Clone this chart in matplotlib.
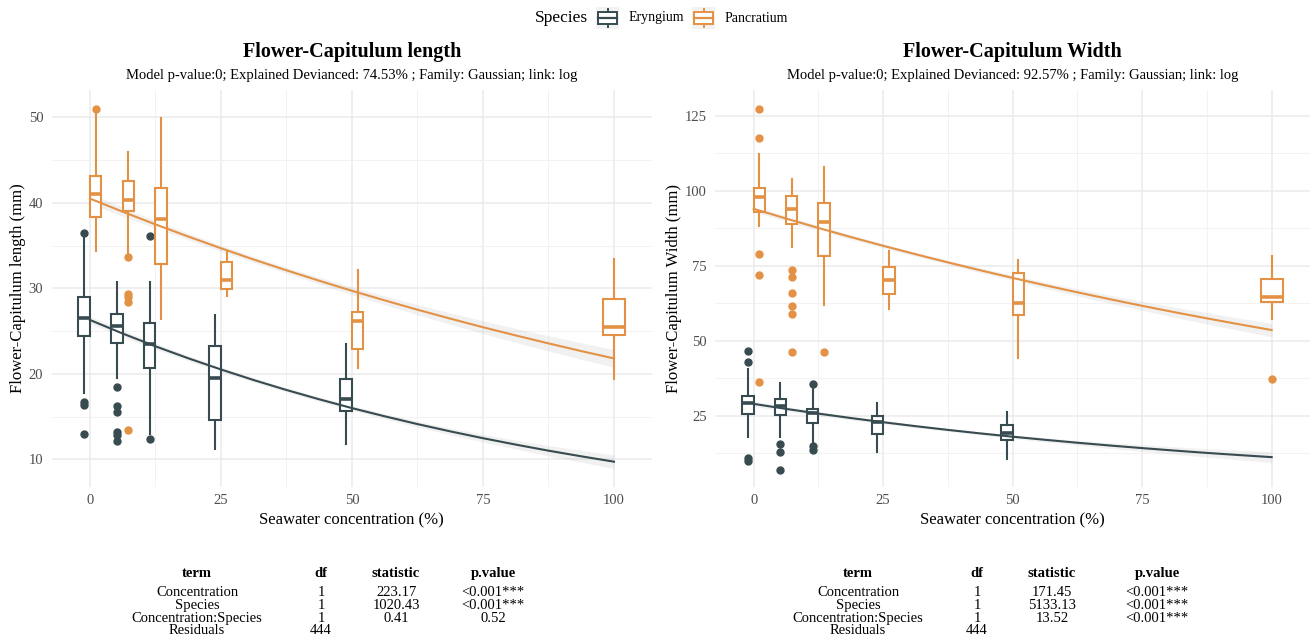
import matplotlib
matplotlib.use("Agg")
import matplotlib.pyplot as plt
from matplotlib.patches import Rectangle
from matplotlib.lines import Line2D

plt.rcParams['font.family'] = ['Liberation Serif', 'DejaVu Serif']

# colours
col_ery = '#374B50'
col_pan = '#E39245'
species = ['Eryngium', 'Pancratium']

# seawater concentrations (%)
conc_ery = [0, 6.25, 12.5, 25, 50]
conc_pan = [0, 6.25, 12.5, 25, 50, 100]

# ---- Flower-Capitulum length : box stats
len_ery_q1 = [24.4, 23.6, 20.65, 14.6, 15.7]
len_ery_med = [26.5, 25.6, 23.5, 19.5, 17.0]
len_ery_q3 = [29.0, 27.0, 25.9, 23.2, 19.4]
len_ery_lo = [17.7, 19.5, 13.0, 11.2, 11.8]
len_ery_hi = [35.9, 30.7, 30.7, 26.9, 23.5]
len_ery_out = [[36.5, 16.7, 16.3, 13.0], [18.4, 16.2, 15.5, 13.2, 12.9, 12.1],
               [36.15, 12.4], [], []]

len_pan_q1 = [38.3, 39.0, 32.85, 29.9, 22.9, 24.5]
len_pan_med = [41.05, 40.35, 38.1, 31.0, 26.2, 25.5]
len_pan_q3 = [43.1, 42.6, 41.7, 33.1, 27.2, 28.8]
len_pan_lo = [34.4, 34.0, 26.4, 29.05, 20.65, 19.4]
len_pan_hi = [50.5, 45.9, 49.9, 34.35, 32.2, 33.45]
len_pan_out = [[51.0], [33.7, 29.35, 29.0, 28.4, 13.4], [], [], [], []]

# ---- Flower-Capitulum width
wid_ery_q1 = [25.55, 25.4, 22.6, 19.0, 17.0]
wid_ery_med = [29.4, 28.4, 26.0, 22.8, 19.2]
wid_ery_q3 = [31.7, 30.6, 27.3, 24.8, 22.0]
wid_ery_lo = [18.1, 17.8, 16.0, 12.8, 10.6]
wid_ery_hi = [40.5, 35.9, 34.0, 29.4, 26.2]
wid_ery_out = [[46.6, 42.9, 10.9, 9.8], [15.7, 12.9, 7.0], [35.5, 15.0, 13.6], [], []]

wid_pan_q1 = [93.0, 88.9, 78.2, 65.6, 58.5, 63.0]
wid_pan_med = [97.8, 93.8, 89.7, 70.3, 62.7, 64.7]
wid_pan_q3 = [101.0, 98.3, 96.0, 74.7, 72.5, 70.6]
wid_pan_lo = [88.3, 81.2, 62.0, 60.6, 44.4, 57.4]
wid_pan_hi = [112.2, 104.1, 107.8, 80.0, 76.9, 78.3]
wid_pan_out = [[127.2, 117.7, 78.9, 71.8, 36.2], [73.6, 71.2, 66.1, 61.7, 59.0, 46.2],
               [46.4], [], [], [37.2]]

# ---- fitted GLM curves (at these x) and CI half-widths
fit_x = [0, 6.25, 12.5, 18.75, 25, 31.25, 37.5, 43.75, 50,
         56.25, 62.5, 68.75, 75, 81.25, 87.5, 93.75, 100]
len_fit_ery = [26.30, 24.71, 23.22, 21.82, 20.51, 19.27, 18.11, 17.02, 15.99,
               15.03, 14.12, 13.27, 12.47, 11.72, 11.01, 10.35, 9.72]
len_ci_ery = [0.45, 0.4, 0.35, 0.31, 0.28, 0.26, 0.25, 0.26, 0.28,
              0.31, 0.35, 0.4, 0.45, 0.52, 0.6, 0.7, 0.8]
len_fit_pan = [40.50, 38.96, 37.48, 36.06, 34.69, 33.37, 32.11, 30.89, 29.71,
               28.59, 27.50, 26.46, 25.45, 24.49, 23.56, 22.66, 21.80]
len_ci_pan = [0.6, 0.52, 0.45, 0.4, 0.35, 0.35, 0.35, 0.4, 0.45,
              0.52, 0.6, 0.67, 0.75, 0.82, 0.9, 0.97, 1.05]
wid_fit_ery = [29.00, 27.33, 25.76, 24.28, 22.89, 21.57, 20.33, 19.16, 18.06,
               17.03, 16.05, 15.13, 14.26, 13.44, 12.66, 11.94, 11.25]
wid_ci_ery = [0.9, 0.8, 0.7, 0.62, 0.55, 0.52, 0.5, 0.55, 0.6,
              0.7, 0.8, 0.95, 1.1, 1.25, 1.4, 1.6, 1.8]
wid_fit_pan = [94.00, 90.76, 87.63, 84.60, 81.68, 78.87, 76.15, 73.52, 70.98,
               68.53, 66.17, 63.89, 61.68, 59.55, 57.50, 55.52, 53.60]
wid_ci_pan = [1.0, 0.9, 0.8, 0.75, 0.7, 0.7, 0.7, 0.8, 0.9,
              1.05, 1.2, 1.35, 1.5, 1.7, 1.9, 2.05, 2.2]

# ---- anova tables
tab_head = ['term', 'df', 'statistic', 'p.value']
tab_terms = ['Concentration', 'Species', 'Concentration:Species', 'Residuals']
tab_df = ['1', '1', '1', '444']
len_stat = ['223.17', '1020.43', '0.41', '']
len_p = ['<0.001***', '<0.001***', '0.52', '']
wid_stat = ['171.45', '5133.13', '13.52', '']
wid_p = ['<0.001***', '<0.001***', '<0.001***', '']

W, H = 1311, 642
fig = plt.figure(figsize=(W / 100, H / 100), dpi=100)


def box_stats(q1, med, q3, lo, hi, out):
    return [dict(q1=a, med=b, q3=c, whislo=d, whishi=e, fliers=f)
            for a, b, c, d, e, f in zip(q1, med, q3, lo, hi, out)]


def draw_boxes(ax, conc, stats, color, side, n_other):
    pos, wds = [], []
    for x in conc:
        if x in n_other:
            pos.append(x + side * 1.1)
            wds.append(2.2)
        else:
            pos.append(x)
            wds.append(4.3)
    ax.bxp(stats, positions=pos, widths=wds, patch_artist=True, showcaps=False,
           boxprops=dict(facecolor='white', edgecolor=color, linewidth=1.5),
           medianprops=dict(color=color, linewidth=2.6, solid_capstyle='butt'),
           whiskerprops=dict(color=color, linewidth=1.5),
           flierprops=dict(marker='o', markerfacecolor=color, markeredgecolor=color,
                           markersize=5),
           manage_ticks=False, zorder=3)


def panel(rect, title, subtitle, ylabel, ery, pan, fits, xlim, ylim, yticks, yminor):
    ax = fig.add_axes(rect)
    ax.set_xlim(*xlim)
    ax.set_ylim(*ylim)
    ax.set_xticks([0, 25, 50, 75, 100])
    ax.set_xticks([12.5, 37.5, 62.5, 87.5], minor=True)
    ax.set_yticks(yticks)
    ax.set_yticks(yminor, minor=True)
    ax.grid(which='major', color='#EBEBEB', linewidth=1.1, zorder=0)
    ax.grid(which='minor', color='#F2F2F2', linewidth=0.7, zorder=0)
    ax.set_axisbelow(True)
    for s in ax.spines.values():
        s.set_visible(False)
    ax.tick_params(which='both', length=0, labelsize=10.5, labelcolor='#4D4D4D', pad=5)
    ax.tick_params(axis='y', pad=6)

    for (fy, ci, c) in fits:
        lo = [a - b for a, b in zip(fy, ci)]
        hi = [a + b for a, b in zip(fy, ci)]
        ax.fill_between(fit_x, lo, hi, color='#999999', alpha=0.13, linewidth=0, zorder=2)

    draw_boxes(ax, conc_ery, ery, col_ery, -1, conc_ery)
    draw_boxes(ax, conc_pan, pan, col_pan, 1, conc_ery)

    for (fy, ci, c) in fits:
        ax.plot(fit_x, fy, color=c, linewidth=1.5, zorder=4)

    ax.set_xlabel('Seawater concentration (%)', fontsize=12, labelpad=4)
    ax.set_ylabel(ylabel, fontsize=12, labelpad=2)
    ax.text(0.5, 1 + 38 / 397, title, transform=ax.transAxes, ha='center', va='center',
            fontsize=14.5, fontweight='bold')
    ax.text(0.5, 1 + 14.5 / 397, subtitle, transform=ax.transAxes, ha='center',
            va='center', fontsize=10.5)
    return ax


bottom = 1 - 487 / H
height = 397 / H

panel([51.7 / W, bottom, 600 / W, height], 'Flower-Capitulum length',
      'Model p-value:0; Explained Devianced: 74.53% ; Family: Gaussian; link: log',
      'Flower-Capitulum length (mm)',
      box_stats(len_ery_q1, len_ery_med, len_ery_q3, len_ery_lo, len_ery_hi, len_ery_out),
      box_stats(len_pan_q1, len_pan_med, len_pan_q3, len_pan_lo, len_pan_hi, len_pan_out),
      [(len_fit_ery, len_ci_ery, col_ery), (len_fit_pan, len_ci_pan, col_pan)],
      (-7.3, 107.2), (6.76, 53.2), [10, 20, 30, 40, 50], [15, 25, 35, 45])

panel([715 / W, bottom, 595 / W, height], 'Flower-Capitulum Width',
      'Model p-value:0; Explained Devianced: 92.57% ; Family: Gaussian; link: log',
      'Flower-Capitulum Width (mm)',
      box_stats(wid_ery_q1, wid_ery_med, wid_ery_q3, wid_ery_lo, wid_ery_hi, wid_ery_out),
      box_stats(wid_pan_q1, wid_pan_med, wid_pan_q3, wid_pan_lo, wid_pan_hi, wid_pan_out),
      [(wid_fit_ery, wid_ci_ery, col_ery), (wid_fit_pan, wid_ci_pan, col_pan)],
      (-7.47, 107.4), (1.3, 133.6), [25, 50, 75, 100, 125], [12.5, 37.5, 62.5, 87.5, 112.5])

# ---- legend at the top
fx = lambda px: px / W
fy = lambda py: 1 - py / H
fig.text(fx(535), fy(18), 'Species', fontsize=12.5, ha='left', va='center')
key_left = [596, 692]
for name, c, kx in zip(species, [col_ery, col_pan], key_left):
    fig.add_artist(Rectangle((fx(kx), fy(29)), 23 / W, 22 / H, facecolor='#F2F2F2',
                             edgecolor='none', transform=fig.transFigure))
    fig.add_artist(Rectangle((fx(kx + 2), fy(24)), 19 / W, 12 / H, facecolor='white',
                             edgecolor=c, linewidth=1.4, transform=fig.transFigure))
    fig.add_artist(Line2D([fx(kx + 2), fx(kx + 21)], [fy(18), fy(18)], color=c,
                          linewidth=1.6, transform=fig.transFigure))
    fig.add_artist(Line2D([fx(kx + 11.5)] * 2, [fy(9), fy(12)], color=c,
                          linewidth=1.4, transform=fig.transFigure))
    fig.add_artist(Line2D([fx(kx + 11.5)] * 2, [fy(24), fy(27)], color=c,
                          linewidth=1.4, transform=fig.transFigure))
    fig.text(fx(kx + 33), fy(18), name, fontsize=10, ha='left', va='center')


# ---- anova tables (baseline aligned rows)
def table(cols_x, stat, pv):
    cols = [tab_terms, tab_df, stat, pv]
    for x, head, vals in zip(cols_x, tab_head, cols):
        fig.text(fx(x), fy(577), head, ha='center', va='baseline', fontsize=10.5,
                 fontweight='bold')
        for i, v in enumerate(vals):
            fig.text(fx(x), fy(596.3 + i * 12.7), v, ha='center', va='baseline',
                     fontsize=10.5)


table([197, 321, 396, 493], len_stat, len_p)
table([858, 977, 1052, 1157], wid_stat, wid_p)

fig.savefig('out.png', dpi=100)
